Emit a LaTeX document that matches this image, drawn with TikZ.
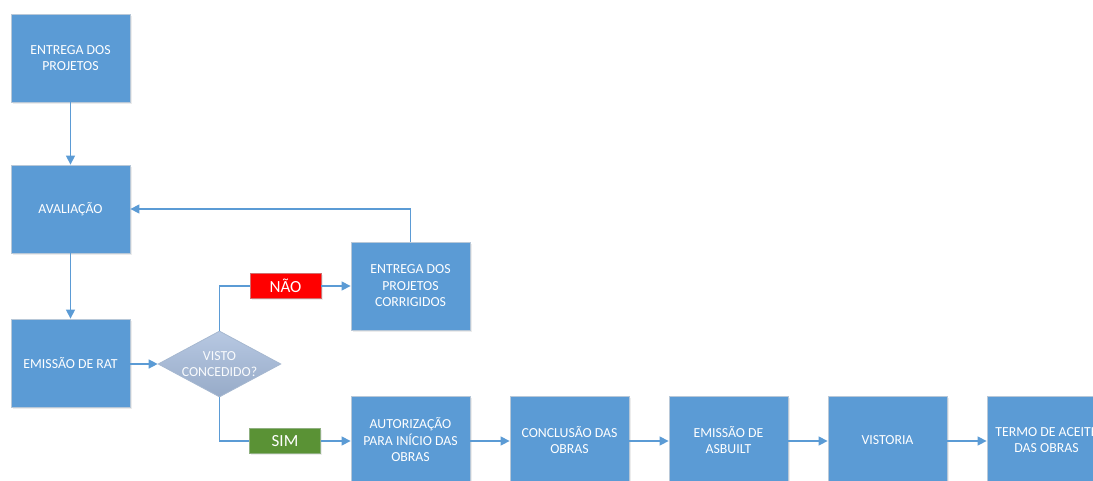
\documentclass[tikz,border=0pt]{standalone}
\usepackage{fontspec}
\setmainfont{Carlito}
\usetikzlibrary{arrows.meta,shapes.geometric,positioning,shadows}
\definecolor{boxblue}{HTML}{5B9BD5}
\definecolor{boxedge}{HTML}{B8C8D8}
\definecolor{linkblue}{HTML}{5B9BD5}
\definecolor{diatop}{HTML}{B7C8E2}
\definecolor{diabot}{HTML}{97ABC8}
\definecolor{diaedge}{HTML}{A6B8D0}
\definecolor{naored}{HTML}{FF0000}
\definecolor{naoedge}{HTML}{D07070}
\definecolor{simgreen}{HTML}{5A9235}
\definecolor{simedge}{HTML}{8FB080}
\tikzset{
  softshadow/.style={drop shadow={opacity=0.12, shadow xshift=1.5pt, shadow yshift=-1.5pt, fill=black!60}},
  procbox/.style={draw=boxedge, line width=0.8pt, fill=boxblue, minimum width=119pt, minimum height=88pt,
    inner sep=0pt, align=center, text=white, font=\fontsize{13.8}{16.5}\selectfont, softshadow},
  decision/.style={diamond, draw=diaedge, line width=0.8pt, top color=diatop, bottom color=diabot,
    minimum width=119pt, minimum height=64pt, inner sep=0pt, aspect=1.86, align=center,
    text=white!92!diatop, font=\fontsize{13.8}{16.5}\selectfont},
  tagbox/.style={draw=#1, line width=0.8pt, minimum width=71pt, minimum height=25pt, inner sep=0pt,
    text=white, font=\fontsize{17}{19}\selectfont, softshadow},
  link/.style={draw=linkblue, line width=1.4pt, -{Triangle[length=9pt,width=9pt]}},
  plainlink/.style={draw=linkblue, line width=1.4pt}
}
\begin{document}
\begin{tikzpicture}[x=1pt,y=-1pt]
\useasboundingbox (0,0) rectangle (1093,480);
\clip (0,0) rectangle (1093,480);
\node[procbox] (ent) at (70.5,58) {ENTREGA DOS\\PROJETOS};
\node[procbox] (aval) at (70.5,209) {AVALIAÇÃO};
\node[procbox] (rat) at (70.5,363) {EMISSÃO DE RAT};
\node[decision] (visto) at (219.5,364) {VISTO\\CONCEDIDO?};
\node[tagbox=naoedge, fill=naored] (nao) at (285.5,286) {NÃO};
\node[tagbox=simedge, fill=simgreen] (sim) at (285,441) {SIM};
\node[procbox] (corr) at (410.5,286) {ENTREGA DOS\\PROJETOS\\CORRIGIDOS};
\node[procbox] (aut) at (410.5,440) {AUTORIZAÇÃO\\PARA INÍCIO DAS\\OBRAS};
\node[procbox] (conc) at (569.5,440) {CONCLUSÃO DAS\\OBRAS};
\node[procbox] (asb) at (728.5,440) {EMISSÃO DE\\ASBUILT};
\node[procbox] (vist) at (887.5,440) {VISTORIA};
\node[procbox] (termo) at (1046.5,440) {TERMO DE ACEITE\\DAS OBRAS};
\coordinate (c1) at (corr.north |- aval.east);
\coordinate (c2) at (visto.north |- nao.west);
\coordinate (c3) at (visto.south |- sim.west);
\draw[link] (ent) -- (aval);
\draw[link] (aval) -- (rat);
\draw[link] (rat.east |- visto) -- (visto.west);
\draw[link] (corr.north) -- (c1) -- (aval.east);
\draw[plainlink] (visto.north) -- (c2) -- (nao.west);
\draw[link] (nao.east) -- (corr.west |- nao.east);
\draw[plainlink] (visto.south) -- (c3) -- (sim.west);
\draw[link] (sim.east) -- (aut.west |- sim.east);
\draw[link] (aut.east |- sim.east) -- (conc.west |- sim.east);
\draw[link] (conc.east |- sim.east) -- (asb.west |- sim.east);
\draw[link] (asb.east |- sim.east) -- (vist.west |- sim.east);
\draw[link] (vist.east |- sim.east) -- (termo.west |- sim.east);
\end{tikzpicture}
\end{document}
